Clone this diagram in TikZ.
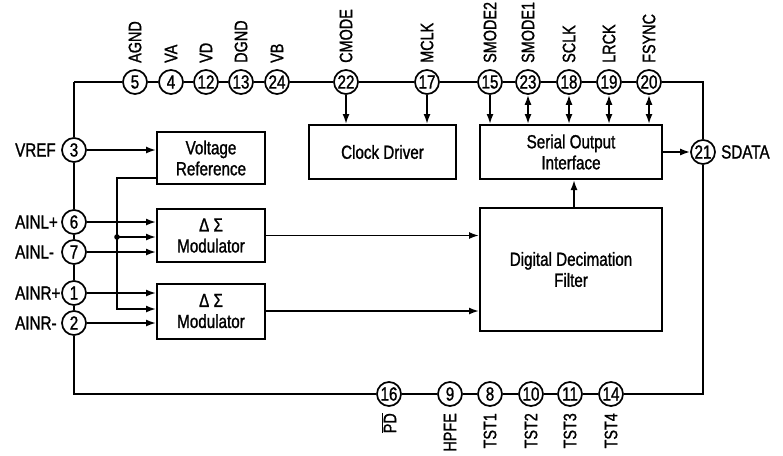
\documentclass[tikz,border=0pt]{standalone}
\usepackage{fontspec}
\setmainfont{Liberation Sans}[FakeStretch=0.8,FakeBold=1.2]
\usetikzlibrary{arrows.meta}
\begin{document}
\begin{tikzpicture}[x=1pt,y=-1pt,
  wire/.style={line width=2.2pt},
  sig/.style={line width=1.7pt},
  tip/.style={-{Latex[length=10pt,width=7pt]}},
  dtip/.style={{Latex[length=10pt,width=7pt]}-{Latex[length=10pt,width=7pt]}},
  pin/.style={circle,draw,line width=1.7pt,fill=white,minimum size=24pt,inner sep=0pt,font=\fontsize{19}{19}\selectfont},
  blk/.style={draw,line width=2pt,fill=white,align=center,font=\fontsize{19}{21}\selectfont,inner sep=0pt},
  lbl/.style={font=\fontsize{19}{19}\selectfont,inner sep=0pt},
  vlbl/.style={font=\fontsize{18}{18}\selectfont,inner sep=0pt,rotate=90},
]
\useasboundingbox (0,0) rectangle (783,455);

% blocks
\node[blk,minimum width=108pt,minimum height=52pt] (VR) at (211,158) {Voltage\\Reference};
\node[blk,minimum width=108pt,minimum height=53pt] (M1) at (211,235.5) {Δ Σ\\Modulator};
\node[blk,minimum width=108pt,minimum height=55pt] (M2) at (211,311) {Δ Σ\\Modulator};
\node[blk,minimum width=147pt,minimum height=54pt] (CD) at (382.5,152) {Clock Driver};
\node[blk,minimum width=182pt,minimum height=54pt] (SOI) at (571,152) {Serial Output\\Interface};
\node[blk,minimum width=182pt,minimum height=123pt] (DDF) at (571,269.5) {Digital Decimation\\Filter};

% corners
\coordinate (c1) at (74,82);
\coordinate (c2) at (703,82);
\coordinate (c3) at (703,394);
\coordinate (c4) at (74,394);

% pins top
\node[pin] (p5) at (135,82) {5};
\node[pin] (p4) at (171,82) {4};
\node[pin] (p12) at (206,82) {12};
\node[pin] (p13) at (241,82) {13};
\node[pin] (p24) at (277,82) {24};
\node[pin] (p22) at (346,82) {22};
\node[pin] (p17) at (427,82) {17};
\node[pin] (p15) at (490,82) {15};
\node[pin] (p23) at (528,82) {23};
\node[pin] (p18) at (569,82) {18};
\node[pin] (p19) at (609,82) {19};
\node[pin] (p20) at (649,82) {20};
% pins left
\node[pin] (p3) at (74,150) {3};
\node[pin] (p6) at (74,222) {6};
\node[pin] (p7) at (74,252) {7};
\node[pin] (p1) at (74,293) {1};
\node[pin] (p2) at (74,323) {2};
% pin right
\node[pin] (p21) at (703,152) {21};
% pins bottom
\node[pin] (p16) at (389,394) {16};
\node[pin] (p9) at (450,394) {9};
\node[pin] (p8) at (490,394) {8};
\node[pin] (p10) at (531,394) {10};
\node[pin] (p11) at (570,394) {11};
\node[pin] (p14) at (611,394) {14};

% border
\draw[wire] (c1) -- (p5) -- (p4) -- (p12) -- (p13) -- (p24) -- (p22) -- (p17) -- (p15) -- (p23) -- (p18) -- (p19) -- (p20) -- (c2) -- (p21) -- (c3) -- (p14) -- (p11) -- (p10) -- (p8) -- (p9) -- (p16) -- (c4) -- (p2) -- (p1) -- (p7) -- (p6) -- (p3) -- (c1);

% left inputs
\draw[sig,tip] (p3) -- (p3 -| VR.west);
\draw[sig,tip] (p6) -- (p6 -| M1.west);
\draw[sig,tip] (p7) -- (p7 -| M1.west);
\draw[sig,tip] (p1) -- (p1 -| M2.west);
\draw[sig,tip] (p2) -- (p2 -| M2.west);

% reference distribution
\coordinate (vo) at (157,178);
\coordinate (vk) at (117,178);
\coordinate (j) at (117,237);
\coordinate (jb) at (117,309);
\draw[sig,tip] (vo) -- (vk) -- (jb) -- (jb -| M2.west);
\draw[sig,tip] (j) -- (j -| M1.west);
\fill (j) circle (2.8pt);

% modulator outputs
\draw[sig,tip] (M1.east) -- (M1.east -| DDF.west);
\draw[sig,tip] (M2.east) -- (M2.east -| DDF.west);

% top control inputs
\draw[sig,tip] (p22) -- (p22 |- CD.north);
\draw[sig,tip] (p17) -- (p17 |- CD.north);
\draw[sig,tip] (p15) -- (p15 |- SOI.north);
\draw[sig,dtip] (p23) -- (p23 |- SOI.north);
\draw[sig,dtip] (p18) -- (p18 |- SOI.north);
\draw[sig,dtip] (p19) -- (p19 |- SOI.north);
\draw[sig,dtip] (p20) -- (p20 |- SOI.north);

% internal data path
\draw[sig,tip] ([xshift=3pt]DDF.north) -- ([xshift=3pt]SOI.south);
\draw[sig,tip] (SOI.east) -- (p21);

% labels top
\node[vlbl,anchor=west] (tAGND) at (135,63) {AGND};
\node[vlbl,anchor=west] (tVA) at (171,63) {VA};
\node[vlbl,anchor=west] (tVD) at (206,63) {VD};
\node[vlbl,anchor=west] (tDGND) at (241,63) {DGND};
\node[vlbl,anchor=west] (tVB) at (277,63) {VB};
\node[vlbl,anchor=west] (tCMODE) at (346,63) {CMODE};
\node[vlbl,anchor=west] (tMCLK) at (427,63) {MCLK};
\node[vlbl,anchor=west] (tSMODE2) at (490,63) {SMODE2};
\node[vlbl,anchor=west] (tSMODE1) at (528,63) {SMODE1};
\node[vlbl,anchor=west] (tSCLK) at (569,63) {SCLK};
\node[vlbl,anchor=west] (tLRCK) at (609,63) {LRCK};
\node[vlbl,anchor=west] (tFSYNC) at (649,63) {FSYNC};
% labels left
\node[lbl,anchor=west] (lVREF) at (15,150) {VREF};
\node[lbl,anchor=west] (lAINLp) at (15,222) {AINL+};
\node[lbl,anchor=west] (lAINLm) at (15,252) {AINL-};
\node[lbl,anchor=west] (lAINRp) at (15,293) {AINR+};
\node[lbl,anchor=west] (lAINRm) at (15,323) {AINR-};
% label right
\node[lbl,anchor=west] (rSDATA) at (721,152) {SDATA};
% labels bottom
\node[vlbl,anchor=east] (bPD) at (389,413) {$\overline{\mbox{PD}}$};
\node[vlbl,anchor=east] (bHPFE) at (450,413) {HPFE};
\node[vlbl,anchor=east] (bTST1) at (490,413) {TST1};
\node[vlbl,anchor=east] (bTST2) at (531,413) {TST2};
\node[vlbl,anchor=east] (bTST3) at (570,413) {TST3};
\node[vlbl,anchor=east] (bTST4) at (611,413) {TST4};
\end{tikzpicture}
\end{document}
